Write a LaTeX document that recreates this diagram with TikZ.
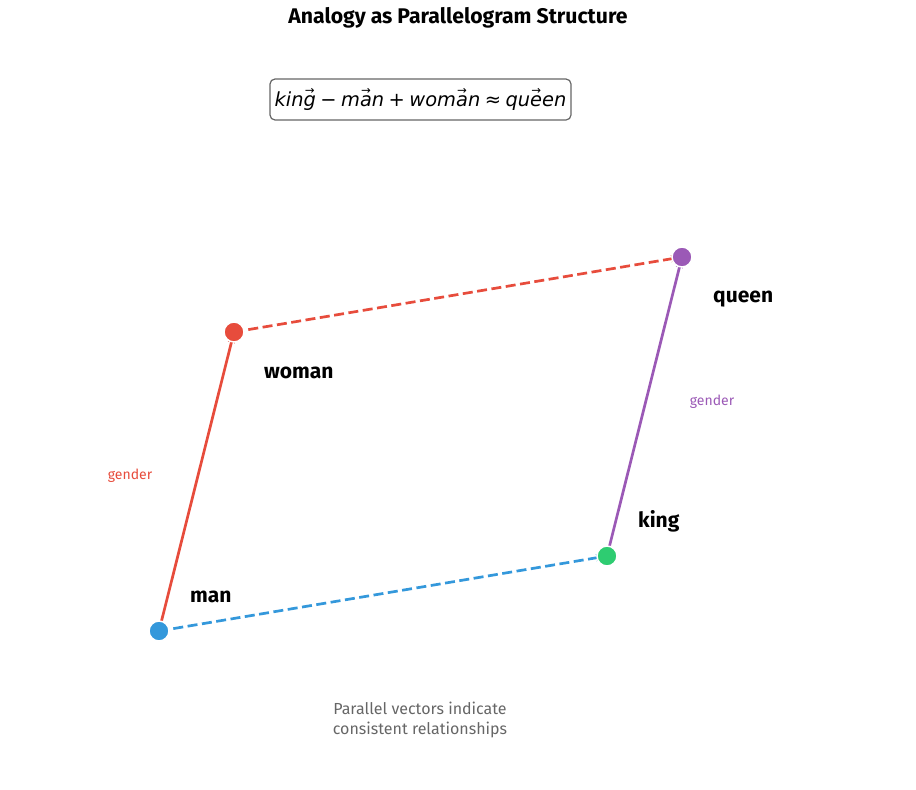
\documentclass[tikz,border=0pt]{standalone}
\usepackage{fontspec}
\usepackage{graphicx}
\setmainfont{Fira Sans}
\newfontfamily\eqfont{DejaVu Sans}
\usetikzlibrary{arrows.meta,backgrounds}
\definecolor{cred}{HTML}{E74C3C}
\definecolor{cblue}{HTML}{3498DB}
\definecolor{cgreen}{HTML}{2ECC71}
\definecolor{cpurple}{HTML}{9B59B6}
\definecolor{cgray}{HTML}{666666}
\newcommand{\vecl}[1]{\sbox0{#1}\rlap{\hbox to \wd0{\hss\raisebox{0.62em}{\upshape\scalebox{0.6}{→}}\hss}}\usebox0}
\newcommand{\op}[1]{\hspace{4.5pt}#1\hspace{4.5pt}}

\begin{document}
\begin{tikzpicture}[x=1pt,y=-1pt]
				\tikzstyle{vertex}=[circle,draw=white,line width=1.5pt,minimum size=20pt,inner sep=0pt]
				\tikzstyle{word}=[anchor=base west,inner sep=0pt,font=\bfseries\fontsize{21}{25}\selectfont]
				\tikzstyle{rel}=[inner sep=0pt,font=\fontsize{14}{16}\selectfont]
				\tikzstyle{vec}=[line width=2.7pt,-{Stealth[length=8pt,width=7pt]},shorten >=3pt]
				\useasboundingbox (0,0) rectangle (916,790);
				\node[font=\bfseries\fontsize{21.2}{25}\selectfont] (t) at (458,18) {Analogy as Parallelogram Structure};
				\node[draw=cgray,rounded corners=5pt,line width=1.2pt,fill=white,minimum width=301pt,minimum height=41pt,font=\eqfont\itshape\fontsize{19.4}{22}\selectfont] (eq) at (420.5,99.5) {kin\vecl{g}\op{−}m\vecl{a}n\op{+}wom\vecl{a}n\op{≈}qu\vecl{e}en};
				\node[vertex,fill=cblue] (1) at (159,631) {};
				\node[vertex,fill=cred] (2) at (234,332) {};
				\node[vertex,fill=cpurple] (3) at (682,257) {};
				\node[vertex,fill=cgreen] (4) at (607,556) {};
				\node[word] (l1) at (190,602) {man};
				\node[word] (l2) at (264,378) {woman};
				\node[word] (l3) at (713,302) {queen};
				\node[word] (l4) at (638,527) {king};
				\node[rel,text=cred] (g1) at (130,476) {gender};
				\node[rel,text=cpurple] (g2) at (712,402) {gender};
				\node[align=center,text=cgray,font=\fontsize{16}{19.5}\selectfont] (c) at (420,720) {Parallel vectors indicate\\consistent relationships};
				\begin{pgfonlayer}{background}
				\draw[vec,cred] (1.center) -- (2.center);
				\draw[vec,cpurple] (4.center) -- (3.center);
				\draw[vec,cred,dash pattern=on 10pt off 4.5pt] (2.center) -- (3.center);
				\draw[vec,cblue,dash pattern=on 10pt off 4.5pt] (1.center) -- (4.center);
				\end{pgfonlayer}
			\end{tikzpicture}
\end{document}
